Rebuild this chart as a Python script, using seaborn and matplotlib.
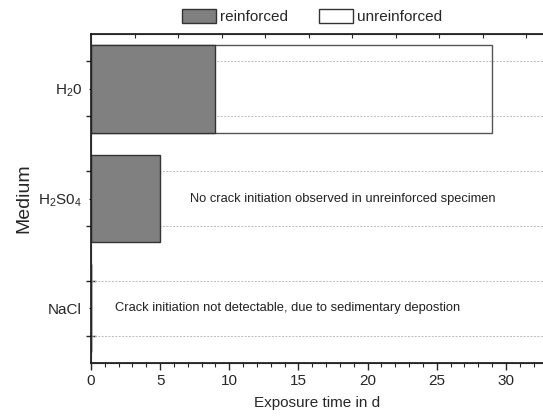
import pandas as pd
import seaborn as sns
import matplotlib.pyplot as plt
from matplotlib.patches import Patch

# -----------------------------
# Data
# -----------------------------
media = ['H$_2$0', 'H$_2$S0$_4$', 'NaCl']
reinforced = [9, 5, 0]
unreinforced = [29, 0, 0]

notes = [
    ('No crack initiation observed in unreinforced specimen', 18.2, 1),
    ('Crack initiation not detectable, due to sedimentary depostion', 14.2, 2),
]

df = pd.DataFrame({'MEDIUM': media, 'REINFORCED': reinforced, 'UNREINFORCED': unreinforced})

# -----------------------------
# Style
# -----------------------------
sns.set_style('ticks')
plt.rcParams['font.family'] = ['Liberation Sans', 'DejaVu Sans']
plt.rcParams['mathtext.fontset'] = 'custom'
plt.rcParams['mathtext.rm'] = 'Liberation Sans'
plt.rcParams['mathtext.it'] = 'Liberation Sans'

fig = plt.figure(figsize=(5.43, 4.2), dpi=100)
ax = fig.add_axes([0.1676, 0.1357, 0.8324, 0.7833])

# unreinforced first (no fill, grid shows through), reinforced drawn on top
sns.barplot(data=df, y='MEDIUM', x='UNREINFORCED', orient='h', fill=False,
            edgecolor='#555555', linewidth=1.0, width=0.8, ax=ax, zorder=2)
sns.barplot(data=df, y='MEDIUM', x='REINFORCED', orient='h', color='#808080',
            edgecolor='#333333', linewidth=1.0, width=0.8, ax=ax, zorder=3,
            saturation=1)

# horizontal dotted grid at the major y ticks (under the grey bars)
for yv in [-0.25, 0.25, 0.75, 1.25, 1.75, 2.25]:
    ax.axhline(yv, color='#bbbbbb', lw=0.7, ls=(0, (2, 1.5)), zorder=1)

for text, xv, yv in notes:
    ax.text(xv, yv, text, ha='center', va='center', fontsize=9.3, color='#222222')

ax.set_xlim(0, 32.68)
ax.set_ylim(2.5, -0.5)

# x axis: majors every 5, minors every 1
ax.set_xticks([0, 5, 10, 15, 20, 25, 30])
ax.set_xticks(range(0, 33), minor=True)
ax.tick_params(axis='x', which='major', direction='out', length=5, width=1, labelsize=11, pad=3)
ax.tick_params(axis='x', which='minor', direction='out', length=3, width=0.8)

# y axis: labels sit on minor positions, major ticks between
ax.set_yticks([-0.25, 0.25, 0.75, 1.25, 1.75, 2.25])
ax.set_yticklabels([])
ax.set_yticks([0, 1, 2], minor=True)
ax.set_yticklabels(media, minor=True, fontsize=11)
ax.tick_params(axis='y', which='major', direction='inout', length=7, width=1)
ax.tick_params(axis='y', which='minor', direction='out', length=1.5, width=0.8, pad=5)

ax.set_xlabel('Exposure time in d', fontsize=11, labelpad=6)
ax.set_ylabel('Medium', fontsize=14, labelpad=4)

for side in ['left', 'bottom', 'top']:
    ax.spines[side].set_linewidth(1.1)
    ax.spines[side].set_color('black')
ax.spines['right'].set_visible(False)

# top axis ticks (no labels)
ax2 = ax.twiny()
ax2.set_xlim(0, 10.39)
ax2.set_xticks(range(1, 11))
ax2.set_xticklabels([])
ax2.tick_params(axis='x', direction='in', length=3, width=0.8)
ax2.spines['right'].set_visible(False)

handles = [Patch(facecolor='#808080', edgecolor='#333333', label='reinforced'),
           Patch(facecolor='white', edgecolor='#333333', label='unreinforced')]
fig.legend(handles=handles, loc='upper center', bbox_to_anchor=(0.575, 1.012), ncol=2,
           frameon=False, fontsize=11, handlelength=2.2, handleheight=1.1,
           columnspacing=2.0, handletextpad=0.3)

plt.savefig('out.png', dpi=100)
